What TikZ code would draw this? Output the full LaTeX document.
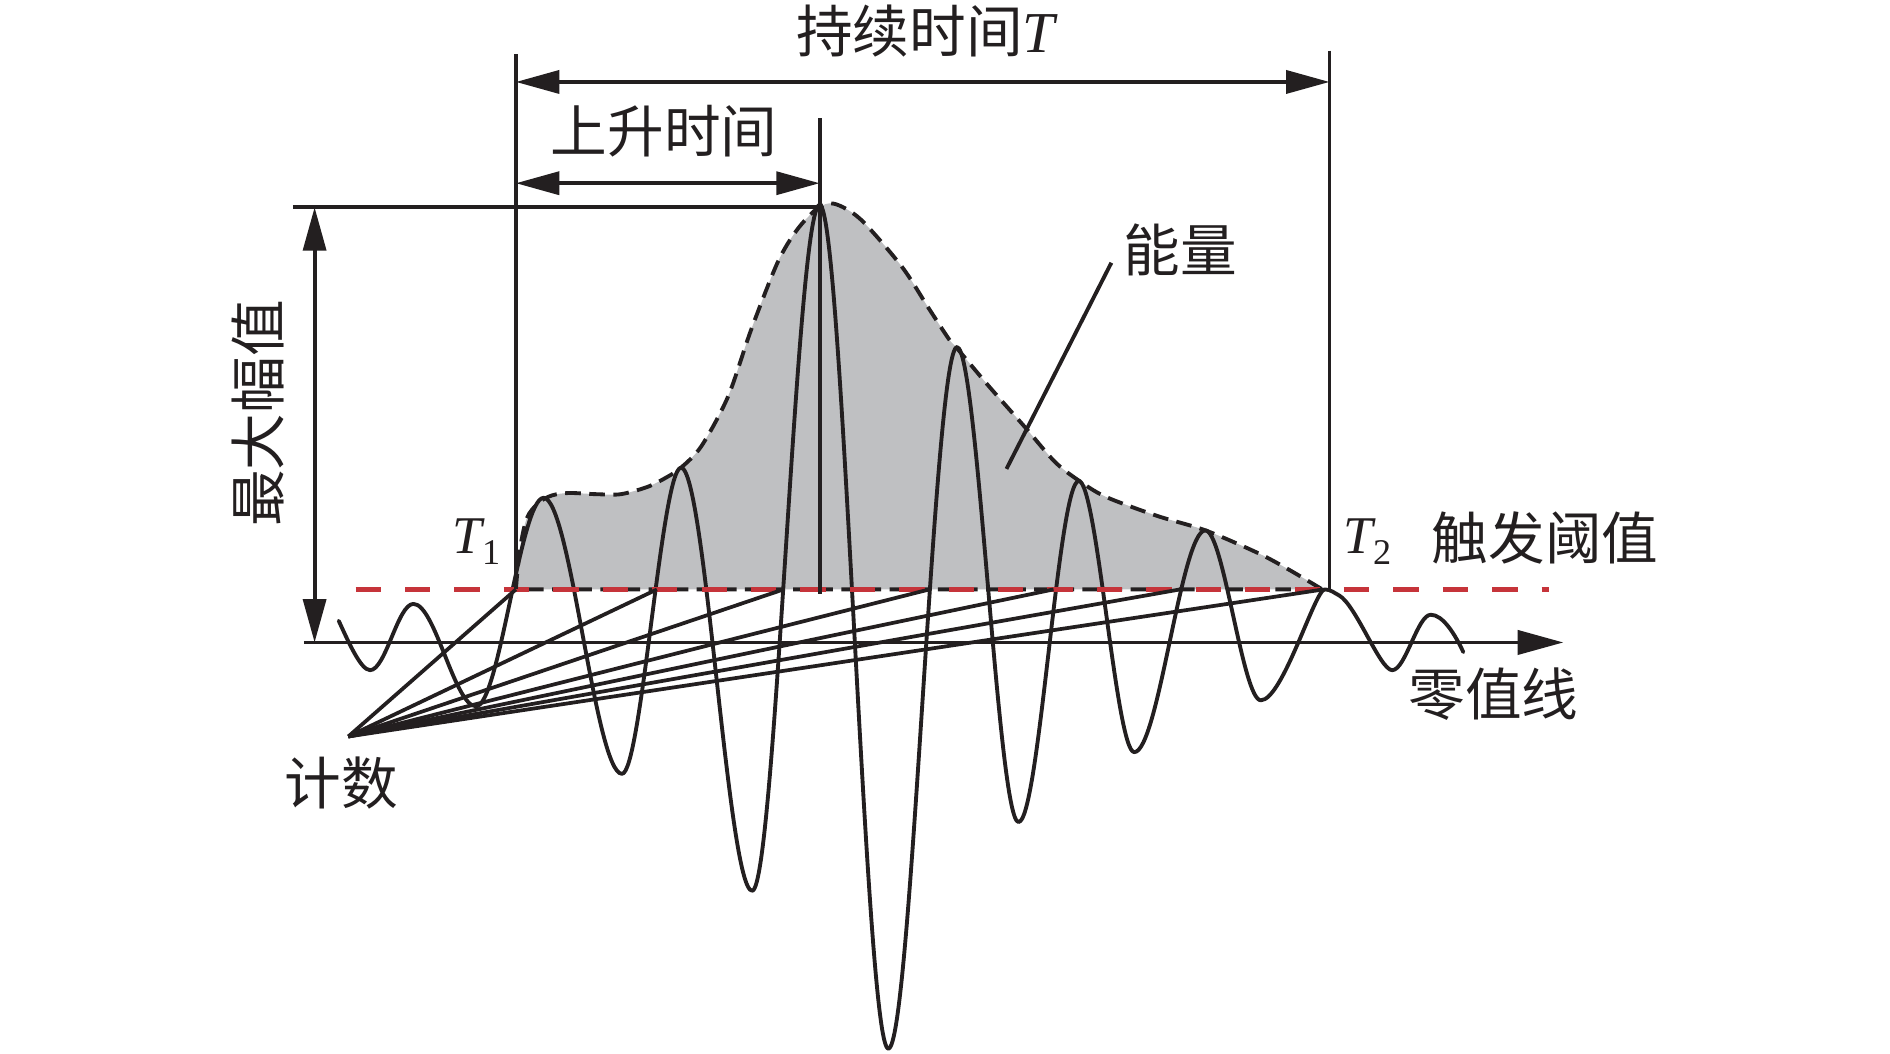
\documentclass[tikz,border=0pt]{standalone}
\usepackage{fontspec}
\setmainfont{Liberation Serif}
\newfontfamily\cjk{Noto Sans CJK SC}
\usetikzlibrary{arrows.meta}
\definecolor{ink}{RGB}{35,31,32}
\definecolor{thr}{RGB}{198,52,58}
\definecolor{energy}{RGB}{191,192,194}
\begin{document}
\begin{tikzpicture}[x=1pt,y=-1pt,line width=3.2pt,
  dimline/.style={draw=ink,{Triangle[length=36pt,width=19pt]}-{Triangle[length=36pt,width=19pt]}},
  axisline/.style={draw=ink,-{Triangle[length=38pt,width=20pt]}},
  plainline/.style={draw=ink},
  waveline/.style={draw=ink,line join=round,line cap=round},
  envline/.style={draw=ink,dash pattern=on 13pt off 7pt},
  threshline/.style={draw=thr,line width=3.8pt,dash pattern=on 21pt off 20pt},
  fanline/.style={draw=ink,line width=3.1pt},
  cjklabel/.style={inner sep=0pt,text=ink,font=\cjk\fontsize{47}{52}\selectfont},
  tlabel/.style={inner sep=0pt,text=ink,anchor=base west,font=\fontsize{44}{48}\selectfont}
]
\fill[white] (0,0) rectangle (1568,874);
\path[use as bounding box] (0,0) rectangle (1568,874);

% key coordinates
\coordinate (T1top) at (428,45);
\coordinate (T1bot) at (428,489);
\coordinate (T2top) at (1103,42);
\coordinate (T2bot) at (1103,489);
\coordinate (durL) at (428,68);
\coordinate (durR) at (1103,68);
\coordinate (riseL) at (428,152);
\coordinate (riseR) at (680,152);
\coordinate (pkTop) at (680,98);
\coordinate (pkBot) at (680,493);
\coordinate (maxL) at (243,172);
\coordinate (maxR) at (680,172);
\coordinate (ampT) at (261,172);
\coordinate (ampB) at (261,533);
\coordinate (zeroL) at (252,533);
\coordinate (zeroR) at (1297,533);
\coordinate (thL) at (295,489);
\coordinate (thR) at (1285,489);
\coordinate (F) at (289,611);
\coordinate (c1) at (428,489);
\coordinate (c2) at (545,489);
\coordinate (c3) at (650,489);
\coordinate (c4) at (771,489);
\coordinate (c5) at (874,489);
\coordinate (c6) at (979,489);
\coordinate (c7) at (1098,489);
\coordinate (enA) at (922,218);
\coordinate (enB) at (835,389);

% energy area
\fill[energy] plot[smooth,tension=0.5] coordinates {
 (428,489) (431,458) (437,430) (447,417) (458,411) (472,409) (495,410)
 (515,410) (537,404) (553,396) (565,388) (582,370) (604,329) (623,274)
 (645,218) (661,191) (678,173) (692,169) (714,182) (748,221) (770,255)
 (787,281) (794,289) (820,320) (850,354) (875,383) (894,398) (917,412)
 (960,428) (1000,440) (1044,459) (1070,473) (1097,489)} -- cycle;

% zero line
\draw[axisline] (zeroL) -- (zeroR);

% waveform
\draw[waveline] (281,515) .. controls (288,530) and (299,556) .. (307,556)
 .. controls +(13,0) and +(-13,0) .. (343,501)
 .. controls +(18,0) and +(-18,0) .. (395,586)
 .. controls +(19,0) and +(-19,0) .. (451,413)
 .. controls +(22,0) and +(-22,0) .. (516,642)
 .. controls +(16,0) and +(-16,0) .. (565,388)
 .. controls +(20,0) and +(-20,0) .. (624,739)
 .. controls +(19,0) and +(-19,0) .. (680,170)
 .. controls +(19,0) and +(-19,0) .. (737,870)
 .. controls +(19,0) and +(-19,0) .. (794,288)
 .. controls +(17,0) and +(-17,0) .. (845,682)
 .. controls +(17,0) and +(-17,0) .. (895,399)
 .. controls +(15,0) and +(-15,0) .. (941,624)
 .. controls +(20,0) and +(-20,0) .. (1000,440)
 .. controls +(15,0) and +(-15,0) .. (1046,581)
 .. controls +(18,0) and +(-8,0) .. (1099,489)
 .. controls +(5,0) and +(-4,-2) .. (1111,494)
 .. controls +(14,8) and +(-10,0) .. (1155,556)
 .. controls +(11,0) and +(-11,0) .. (1187,510)
 .. controls +(10,0) and (1207,526) .. (1214,541);

% envelope outline
\draw[envline] plot[smooth,tension=0.5] coordinates {
 (428,489) (431,458) (437,430) (447,417) (458,411) (472,409) (495,410)
 (515,410) (537,404) (553,396) (565,388) (582,370) (604,329) (623,274)
 (645,218) (661,191) (678,173) (692,169) (714,182) (748,221) (770,255)
 (787,281) (794,289) (820,320) (850,354) (875,383) (894,398) (917,412)
 (960,428) (1000,440) (1044,459) (1070,473) (1097,489)} -- cycle;

% threshold
\draw[threshline] (thL) -- (thR);

% counting fan
\foreach \c in {c1,c2,c3,c4,c5,c6,c7} \draw[fanline] (F) -- (\c);

% reference lines
\draw[plainline] (T1top) -- (T1bot);
\draw[plainline] (T2top) -- (T2bot);
\draw[plainline] (pkTop) -- (pkBot);
\draw[plainline] (maxL) -- (maxR);
\draw[dimline] (durL) -- (durR);
\draw[dimline] (riseL) -- (riseR);
\draw[dimline] (ampT) -- (ampB);
\draw[plainline] (enA) -- (enB);

% labels
\node[cjklabel] (durlab) at (768,26) {持续时间{\rmfamily\itshape\fontsize{48}{48}\selectfont T}};
\node[cjklabel] (riselab) at (551,109) {上升时间};
\node[cjklabel,rotate=90] (amplab) at (214,343) {最大幅值};
\node[cjklabel] (enlab) at (979,207) {能量};
\node[cjklabel] (thlab) at (1282,446) {触发阈值};
\node[cjklabel] (zerolab) at (1239,576) {零值线};
\node[cjklabel] (cntlab) at (283,650) {计数};
\node[tlabel] (t1lab) at (374,459) {\itshape T\raisebox{-9pt}{\upshape\fontsize{30}{30}\selectfont 1}};
\node[tlabel] (t2lab) at (1113,459) {\itshape T\raisebox{-9pt}{\upshape\fontsize{30}{30}\selectfont 2}};
\end{tikzpicture}
\end{document}
